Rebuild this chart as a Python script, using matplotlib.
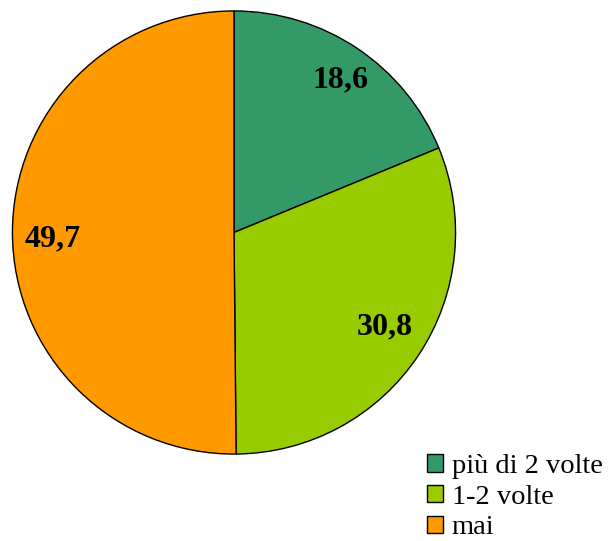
import matplotlib
matplotlib.use("Agg")
import matplotlib.pyplot as plt
import numpy as np

labels = ["più di 2 volte", "1-2 volte", "mai"]
values = [18.6, 30.8, 49.7]
value_text = ["18,6", "30,8", "49,7"]
colors = ["#339966", "#99CC00", "#FF9900"]

# label placement (radius fraction, angle in degrees) like the original layout
label_pos = [(0.84, 55), (0.80, -32), (0.82, 182)]

plt.rcParams['font.family'] = ['Liberation Serif', 'DejaVu Serif']

fig = plt.figure(figsize=(6.08, 5.41), dpi=100)
W, H = 608, 541
ax = fig.add_axes([12 / W, (H - 455) / H, 444 / W, 445 / H])

wedges, _ = ax.pie(values, colors=colors, startangle=90, counterclock=False, radius=1,
                   wedgeprops={'edgecolor': 'black', 'linewidth': 1.0})
ax.set_xlim(-1.002, 1.002)
ax.set_ylim(-1.002, 1.002)
ax.set_aspect('equal')

for txt, (r, a) in zip(value_text, label_pos):
    ax.text(r * np.cos(np.radians(a)), r * np.sin(np.radians(a)), txt,
            ha='center', va='center', fontsize=23, fontweight='bold')

fig.legend(wedges, labels, loc='upper left', bbox_to_anchor=(427 / W, 1 - 454 / H),
           frameon=False, fontsize=20.5, handlelength=0.57, handleheight=0.57,
           handletextpad=0.3, labelspacing=0.2, borderaxespad=0, borderpad=0)

fig.savefig("out.png", dpi=100)
